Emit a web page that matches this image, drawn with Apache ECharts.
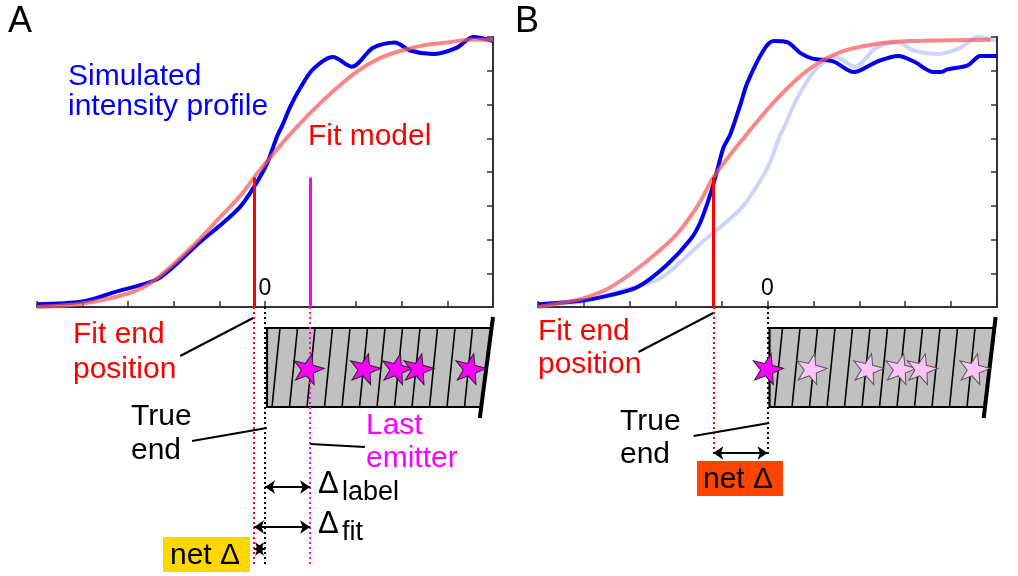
<!DOCTYPE html>
<html>
<head>
<meta charset="utf-8">
<script src="https://cdn.jsdelivr.net/npm/echarts@6.0.0/dist/echarts.min.js"></script>
<style>
  html, body { margin: 0; padding: 0; background: #fff; }
  #main { width: 1018px; height: 576px; }
</style>
</head>
<body>
<div id="main"></div>
<script>
'use strict'
// position along the filament (x) vs normalised intensity (y)
var profileA = [[-5, 0.01], [-4, 0.02], [-3.3, 0.055], [-2.4, 0.1], [-2, 0.15], [-1.43, 0.24],
    [-1, 0.3], [-0.55, 0.37], [-0.24, 0.445], [0.04, 0.53], [0.26, 0.63], [0.4, 0.68],
    [0.55, 0.74], [0.77, 0.81], [1.05, 0.88], [1.49, 0.926], [1.9, 0.89], [2.37, 0.96],
    [2.85, 0.98], [3.18, 0.95], [3.68, 0.937], [4.2, 0.96], [4.57, 1.0], [5, 0.985]];
var fitA = [[-5, 0.0], [-4, 0.013], [-3, 0.05], [-2.5, 0.09], [-2, 0.16], [-1.5, 0.24],
    [-1, 0.33], [-0.5, 0.42], [-0.24, 0.48], [0, 0.53], [0.5, 0.63], [1, 0.72],
    [1.5, 0.8], [2, 0.87], [2.5, 0.92], [3, 0.95], [3.5, 0.97], [4, 0.98], [4.5, 0.99], [5, 0.99]];
var profileB = [[-5, 0.01], [-4, 0.025], [-3.4, 0.045], [-2.83, 0.074], [-2.2, 0.155], [-1.68, 0.25],
    [-1.46, 0.315], [-1.24, 0.42], [-1.09, 0.51], [-0.96, 0.59], [-0.81, 0.64], [-0.59, 0.75],
    [-0.44, 0.83], [-0.09, 0.95], [0.13, 0.985], [0.44, 0.98], [0.72, 0.94], [0.98, 0.92],
    [1.43, 0.91], [1.88, 0.87], [2.4, 0.91], [2.85, 0.93], [3.18, 0.91], [3.62, 0.87],
    [3.77, 0.87], [3.92, 0.88], [4.36, 0.895], [4.64, 0.93], [5, 0.93]];
var fitB = [[-5, 0], [-4, 0.033], [-3.4, 0.075], [-2.7, 0.16], [-2, 0.265], [-1.5, 0.38],
    [-1.18, 0.48], [-0.5, 0.63], [0.2, 0.77], [0.9, 0.88], [1.6, 0.945], [2.4, 0.975],
    [3.1, 0.985], [4.86, 0.99]];

var emittersA = [0.95, 2.19, 2.89, 3.36, 4.5];
var emittersB = [0];            // extra emitter sitting on the true end
var fitEndA = -0.24;
var fitEndB = -1.18;
var trueEnd = 0;
var lastEmitterA = 0.99;
var markerTop = 0.48;
var tickLabels = ['0'];

var FONT = 'Liberation Sans, Arial, sans-serif';
var STAR = 'path://M50,0L61.76,33.82L97.55,34.55L69.02,56.18L79.39,90.45L50,70L20.61,90.45L30.98,56.18L2.45,34.55L38.24,33.82Z';

function topX(i) {
    return {
        type: 'value', gridIndex: i, min: -5, max: 5, interval: 1,
        axisLine: { show: true, onZero: false, lineStyle: { color: '#333', width: 2 } },
        axisTick: { show: true, inside: true, length: 6, lineStyle: { color: '#333', width: 1.5 } },
        axisLabel: {
            inside: true, margin: 7, fontSize: 23, color: '#000', fontFamily: FONT,
            formatter: function (v) { return tickLabels.indexOf(String(v)) >= 0 ? String(v) : ''; }
        },
        splitLine: { show: false }
    };
}
function topY(i) {
    return {
        type: 'value', gridIndex: i, position: 'right', min: 0, max: 1, interval: 0.125,
        axisLine: { show: true, onZero: false, lineStyle: { color: '#333', width: 2 } },
        axisTick: { show: true, inside: true, length: 6, lineStyle: { color: '#333', width: 1.5 } },
        axisLabel: { show: false },
        splitLine: { show: false }
    };
}
function lowX(i) {
    return { type: 'value', gridIndex: i, min: -5, max: 5, show: false };
}
function lowY(i) {
    // depth below the axis line, in px
    return { type: 'value', gridIndex: i, min: 0, max: 269, inverse: true, show: false };
}

function curve(name, data, idx, color, width, z) {
    return {
        name: name, type: 'line', xAxisIndex: idx, yAxisIndex: idx, data: data,
        smooth: 0.3, showSymbol: false, silent: true, z: z,
        lineStyle: { color: color, width: width }
    };
}
function segs(idx, list, style, sym, z) {
    style.opacity = 1;
    return {
        type: 'lines', coordinateSystem: 'cartesian2d', xAxisIndex: idx, yAxisIndex: idx,
        symbol: sym || ['none', 'none'], symbolSize: 10, z: z || 5, silent: true,
        lineStyle: style,
        data: list.map(function (c) { return { coords: c }; })
    };
}
function stars(idx, xs, depth, fill, border) {
    return {
        type: 'scatter', xAxisIndex: idx, yAxisIndex: idx, symbol: STAR, symbolKeepAspect: true,
        symbolSize: 31, symbolRotate: -14, z: 8, silent: true,
        itemStyle: { color: fill, borderColor: border, borderWidth: 1, opacity: 1 },
        data: xs.map(function (x) { return [x, depth]; })
    };
}

function renderBox(params, api) {
    var tl = api.coord([api.value(0), api.value(1)]);
    var bl = api.coord([api.value(0), api.value(2)]);
    tl[0] += 2; bl[0] += 2;
    var s1 = api.coord([api.value(3), api.value(4)]);
    var s2 = api.coord([api.value(5), api.value(6)]);
    function edgeX(y) { return s1[0] + (s2[0] - s1[0]) * (y - s1[1]) / (s2[1] - s1[1]); }
    var tr = [edgeX(tl[1]), tl[1]];
    var br = [edgeX(bl[1]), bl[1]];
    var kids = [{ type: 'polygon', shape: { points: [tl, tr, br, bl] }, style: { fill: '#c0c0c0' } }];
    for (var k = 0; ; k++) {
        var bx = bl[0] + 5 + 17.5 * k, tx = bx + 8;
        if (tx > tr[0] - 3) break;
        kids.push({ type: 'line', shape: { x1: bx, y1: bl[1], x2: tx, y2: tl[1] }, style: { stroke: '#000', lineWidth: 1.6 } });
    }
    kids.push({ type: 'polyline', shape: { points: [tr, tl, bl, br] }, style: { stroke: '#000', lineWidth: 2.2, fill: null } });
    kids.push({ type: 'line', shape: { x1: s1[0], y1: s1[1], x2: s2[0], y2: s2[1] }, style: { stroke: '#000', lineWidth: 4 } });
    return { type: 'group', children: kids };
}
function box(idx, slant) {
    return {
        type: 'custom', xAxisIndex: idx, yAxisIndex: idx, z: 3, silent: true,
        renderItem: renderBox,
        data: [[trueEnd, 21, 100].concat(slant)]
    };
}

function txt(x, base, text, color, size) {
    size = size || 30;
    return {
        type: 'text', silent: true, z: 20,
        style: {
            x: x, y: base - 0.35 * size, text: text, fill: color, font: size + 'px ' + FONT,
            textAlign: 'left', textVerticalAlign: 'middle'
        }
    };
}

var dotted = [2, 3];

var option = {
    animation: false,
    backgroundColor: '#fff',
    grid: [
        { left: 37, top: 37, width: 456, height: 270 },
        { left: 37, top: 307, width: 456, height: 269 },
        { left: 538, top: 37, width: 459, height: 270 },
        { left: 538, top: 307, width: 459, height: 269 }
    ],
    xAxis: [topX(0), lowX(1), topX(2), lowX(3)],
    yAxis: [topY(0), lowY(1), topY(2), lowY(3)],
    series: [
        // panel A
        curve('Simulated intensity profile', profileA, 0, '#0000ee', 4, 2),
        curve('Fit model', fitA, 0, 'rgba(245,90,90,0.72)', 4, 3),
        segs(0, [[[fitEndA, 0], [fitEndA, markerTop]]], { color: '#ff0000', width: 3 }),
        segs(0, [[[lastEmitterA, 0], [lastEmitterA, markerTop]]], { color: '#ff00ff', width: 3 }),
        segs(1, [[[fitEndA, 0], [fitEndA, 260]]], { color: '#ff0000', width: 2, type: dotted }),
        segs(1, [[[trueEnd, 0], [trueEnd, 260]]], { color: '#000', width: 2, type: dotted }),
        segs(1, [[[lastEmitterA, 0], [lastEmitterA, 260]]], { color: '#ff00ff', width: 2, type: dotted }),
        box(1, [5.0, 10, 4.71, 111]),
        stars(1, emittersA, 61, '#ff00ff', '#222'),
        segs(1, [
            [[-1.86, 49], [-0.26, 11]],
            [[-1.6, 134], [0.04, 121]],
            [[0.99, 137], [2.19, 140]]
        ], { color: '#000', width: 2 }),
        segs(1, [
            [[trueEnd, 180], [lastEmitterA, 180]],
            [[fitEndA, 220], [lastEmitterA, 220]],
            [[fitEndA, 242], [trueEnd, 242]]
        ], { color: '#000', width: 2 }, ['arrow', 'arrow']),
        // panel B
        curve('Profile A', profileA, 2, 'rgba(60,100,235,0.27)', 4, 1),
        curve('Simulated intensity profile B', profileB, 2, '#0000ee', 4, 2),
        curve('Fit model B', fitB, 2, 'rgba(245,90,90,0.72)', 4, 3),
        segs(2, [[[fitEndB, 0], [fitEndB, markerTop]]], { color: '#ff0000', width: 3 }),
        segs(3, [[[fitEndB, 0], [fitEndB, 148]]], { color: '#ff0000', width: 2, type: dotted }),
        segs(3, [[[trueEnd, 0], [trueEnd, 148]]], { color: '#000', width: 2, type: dotted }),
        box(3, [4.97, 10, 4.71, 111]),
        stars(3, emittersA, 61, '#fcc4f4', '#555'),
        stars(3, emittersB, 61, '#ff00ff', '#222'),
        segs(3, [
            [[-2.81, 45], [-1.18, 6]],
            [[-1.61, 129], [0.04, 116]]
        ], { color: '#000', width: 2 }),
        segs(3, [[[fitEndB, 146], [trueEnd, 146]]], { color: '#000', width: 2 }, ['arrow', 'arrow'])
    ],
    graphic: [
        txt(8, 35, 'A', '#000', 36),
        txt(68, 87, 'Simulated', '#0000ff'),
        txt(68, 117, 'intensity profile', '#0000ff'),
        txt(308, 147, 'Fit model', '#ff0000'),
        txt(73, 345, 'Fit end', '#ff0000'),
        txt(73, 380, 'position', '#ff0000'),
        txt(131, 427, 'True', '#000'),
        txt(131, 461, 'end', '#000'),
        txt(366, 436, 'Last', '#ff00ff'),
        txt(366, 469, 'emitter', '#ff00ff'),
        txt(318, 495, 'Δ', '#000', 31),
        txt(342, 502, 'label', '#000', 27),
        txt(318, 535, 'Δ', '#000', 31),
        txt(342, 542, 'fit', '#000', 27),
        { type: 'rect', z: 19, silent: true, shape: { x: 163, y: 537, width: 87, height: 35 }, style: { fill: '#ffd800' } },
        txt(170, 566, 'net Δ', '#000'),

        txt(515, 35, 'B', '#000', 36),
        txt(538, 342, 'Fit end', '#ff0000'),
        txt(538, 375, 'position', '#ff0000'),
        txt(620, 432, 'True', '#000'),
        txt(620, 465, 'end', '#000'),
        { type: 'rect', z: 19, silent: true, shape: { x: 697, y: 461, width: 86, height: 35 }, style: { fill: '#ff4400' } },
        txt(703, 490, 'net Δ', '#000')
    ]
};

var chart = echarts.init(document.getElementById('main'));
chart.setOption(option);
</script>
</body>
</html>
